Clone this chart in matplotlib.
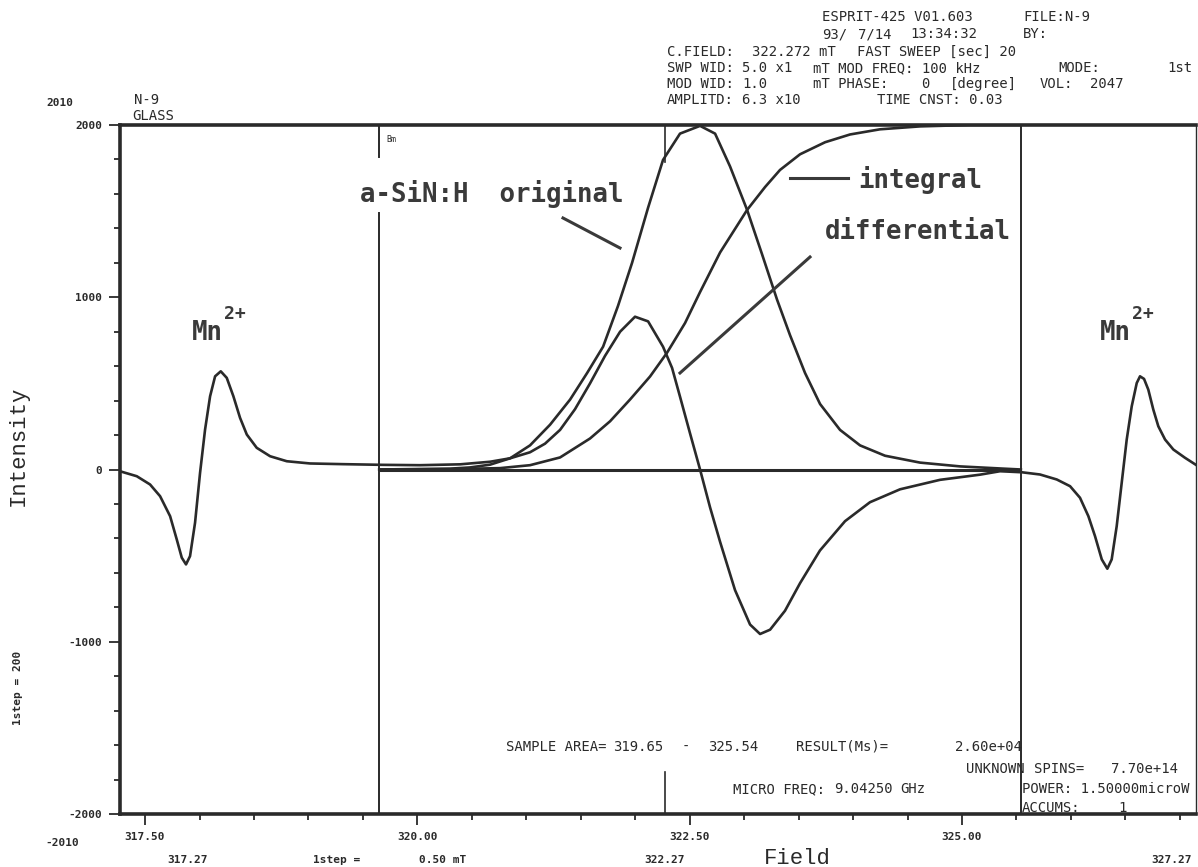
import matplotlib
matplotlib.use("Agg")
import matplotlib.pyplot as plt
from matplotlib.lines import Line2D
from matplotlib.ticker import MultipleLocator

W, H = 1198, 867

# ---------------- data ----------------
# recorded first-derivative spectrum (Mn2+ markers + sample signal)
spec_field = [317.27, 317.301, 317.424, 317.546, 317.638, 317.730, 317.791, 317.837, 317.876,
              317.913, 317.959, 318.005, 318.051, 318.097, 318.143, 318.195, 318.250, 318.311,
              318.372, 318.434, 318.525, 318.648, 318.801, 319.015, 319.318, 319.685,
              320.025, 320.392, 320.667, 320.851, 321.034, 321.172, 321.310, 321.447, 321.585,
              321.723, 321.861, 321.998, 322.118, 322.255, 322.338, 322.411, 322.503, 322.595,
              322.687, 322.779, 322.916, 323.054, 323.146, 323.238, 323.375, 323.513, 323.696,
              323.926, 324.155, 324.431, 324.798, 325.165,
              325.349, 325.548, 325.716, 325.870, 325.992, 326.083, 326.160, 326.221, 326.283,
              326.334, 326.374, 326.420, 326.466, 326.512, 326.558, 326.604, 326.634, 326.671,
              326.710, 326.756, 326.802, 326.864, 326.940, 327.047, 327.167]
spec_int = [-10, -16, -39, -87, -155, -271, -406, -512, -551,
            -503, -309, -19, 232, 425, 541, 570, 532, 425,
            300, 203, 126, 77, 48, 35, 31, 27,
            25, 30, 45, 65, 100, 150, 230, 350, 500,
            660, 800, 887, 860, 713, 590, 423, 210, 0,
            -220, -420, -700, -900, -955, -930, -820, -660, -470,
            -300, -190, -115, -60, -30,
            -10, -16, -29, -58, -97, -164, -271, -387, -522,
            -576, -522, -329, -77, 174, 367, 502, 541, 526,
            464, 348, 251, 174, 116, 68, 19]

# absorption ("original") curve
orig_field = [319.65, 320.300, 320.484, 320.667, 320.851, 321.034, 321.218, 321.402, 321.558,
              321.705, 321.842, 321.971, 322.118, 322.255, 322.411, 322.595, 322.733, 322.870,
              323.027, 323.164, 323.302, 323.421, 323.559, 323.697, 323.880, 324.064, 324.293,
              324.615, 324.982, 325.349, 325.54]
orig_int = [0, 5, 12, 28, 65, 140, 260, 406, 560,
            713, 950, 1200, 1520, 1797, 1950, 1995, 1950, 1760,
            1507, 1250, 986, 780, 560, 380, 230, 140, 80,
            40, 18, 6, 0]

# integrated curve
integ_field = [319.65, 320.300, 320.759, 321.034, 321.310, 321.585, 321.769, 321.952, 322.136,
               322.292, 322.457, 322.595, 322.779, 323.027, 323.192, 323.329, 323.513, 323.743,
               323.972, 324.247, 324.615, 325.074, 325.54]
integ_int = [0, 2, 8, 25, 70, 180, 280, 406, 540,
             678, 850, 1030, 1260, 1507, 1640, 1739, 1830, 1900,
             1945, 1975, 1992, 2000, 2000]

xtick_vals = [317.5, 320.0, 322.5, 325.0]
xtick_labels = ["317.50", "320.00", "322.50", "325.00"]
ytick_vals = [-2000, -1000, 0, 1000, 2000]
ytick_labels = ["-2000", "-1000", "0", "1000", "2000"]
sample_area = [319.65, 325.54]
center_field = 322.27

header = [
    (17, [(822, "ESPRIT-425 V01.603"), (1023, "FILE:N-9")]),
    (34, [(822, "93/"), (858, "7/14"), (910, "13:34:32"), (1023, "BY:")]),
    (52, [(667, "C.FIELD:"), (752, "322.272 mT"), (857, "FAST SWEEP [sec] 20")]),
    (68, [(667, "SWP WID:"), (742, "5.0 x1"), (813, "mT MOD FREQ: 100 kHz"),
          (1058, "MODE:"), (1167, "1st")]),
    (84, [(667, "MOD WID:"), (742, "1.0"), (813, "mT PHASE:"), (921, "0"),
          (950, "[degree]"), (1040, "VOL:"), (1090, "2047")]),
    (100, [(667, "AMPLITD:"), (742, "6.3 x10"), (877, "TIME CNST: 0.03")]),
]

footer = [
    (747, [(506, "SAMPLE AREA="), (613, "319.65"), (682, "-"), (708, "325.54"),
           (796, "RESULT(Ms)="), (955, "2.60e+04")]),
    (769, [(966, "UNKNOWN"), (1034, "SPINS="), (1111, "7.70e+14")]),
    (789, [(733, "MICRO FREQ:"), (834, "9.04250"), (900, "GHz"), (1022, "POWER: 1.50000microW")]),
    (808, [(1022, "ACCUMS:"), (1118, "1")]),
]

# ---------------- figure ----------------
INK = "#2a2a2a"
fig = plt.figure(figsize=(W / 100, H / 100), dpi=100)
fig.patch.set_facecolor("white")


def fx(x):
    return x / W


def fy(y):
    return 1 - y / H


ax = fig.add_axes([fx(120), fy(814), (1196 - 120) / W, (814 - 125) / H])
ax.set_xlim(317.27, 327.148)
ax.set_ylim(-2000, 2000)
ax.set_facecolor("none")

for side, lw in [("left", 2.6), ("top", 2.6), ("bottom", 2.6), ("right", 1.0)]:
    ax.spines[side].set_linewidth(lw)
    ax.spines[side].set_color(INK)

ax.set_xticks(xtick_vals)
ax.set_xticklabels(xtick_labels)
ax.xaxis.set_minor_locator(MultipleLocator(0.5))
ax.set_yticks(ytick_vals)
ax.set_yticklabels(ytick_labels)
ax.yaxis.set_minor_locator(MultipleLocator(200))
ax.tick_params(axis="both", which="major", direction="out", length=8, width=1.3,
               color=INK, labelsize=8, labelcolor=INK)
ax.tick_params(axis="both", which="minor", direction="out", length=4.5, width=1.3, color=INK)
ax.tick_params(axis="y", which="major", pad=5)
ax.tick_params(axis="x", which="major", pad=5)
for lab in ax.get_xticklabels() + ax.get_yticklabels():
    lab.set_fontfamily("DejaVu Sans Mono")
    lab.set_fontweight("bold")

# curves
ax.plot(spec_field, spec_int, color=INK, lw=1.9, solid_joinstyle="round")
ax.plot(orig_field, orig_int, color=INK, lw=1.9, solid_joinstyle="round")
ax.plot(integ_field, integ_int, color=INK, lw=1.9, solid_joinstyle="round")
ax.hlines(0, sample_area[0], sample_area[1], color=INK, lw=2.2)

# sample-area markers
ax.axvline(sample_area[0], ymin=0, ymax=(814 - 213) / 689, color=INK, lw=1.4)
ax.axvline(sample_area[0], ymin=(814 - 157) / 689, ymax=1, color=INK, lw=1.4)
ax.axvline(sample_area[1], color=INK, lw=1.4)
ax.axvline(center_field, ymin=(814 - 162) / 689, ymax=1, color=INK, lw=1.2)
ax.axvline(center_field, ymin=0, ymax=(814 - 772) / 689, color=INK, lw=1.2)

MONO = "DejaVu Sans Mono"


def ptext(x, y, s, size=10, weight="normal", ha="left", va="center", rot=0, family=MONO, color=INK):
    fig.text(fx(x), fy(y), s, fontsize=size, fontweight=weight, ha=ha, va=va,
             rotation=rot, family=family, color=color)


for y, pieces in header + footer:
    for x, s in pieces:
        ptext(x, y, s, size=10)

ptext(386, 139, "Bm", size=6)
ptext(134, 100, "N-9", size=10)
ptext(132, 116, "GLASS", size=10)
ptext(60, 103, "2010", size=8, weight="bold", ha="center")
ptext(62, 843, "-2010", size=8, weight="bold", ha="center")

# axis titles
ptext(18, 446, "Intensity", size=16, rot=90, ha="center", family="Liberation Mono")
ptext(18, 688, "1step = 200", size=8, weight="bold", rot=90, ha="center")
ptext(797, 858, "Field", size=16, ha="center", family="Liberation Mono")
ptext(188, 860, "317.27", size=8, weight="bold", ha="center")
ptext(337, 860, "1step =", size=8, weight="bold", ha="center")
ptext(443, 860, "0.50 mT", size=8, weight="bold", ha="center")
ptext(665, 860, "322.27", size=8, weight="bold", ha="center")
ptext(1172, 860, "327.27", size=8, weight="bold", ha="center")

# hand annotations
ANN = "#3a3a3a"
ptext(360, 194, "a-SiN:H  original", size=18.5, weight="bold", color=ANN)
ptext(858, 180, "integral", size=18.5, weight="bold", color=ANN)
ptext(825, 232, "differential", size=18.5, weight="bold", color=ANN)
ptext(192, 333, "Mn", size=18.5, weight="bold", color=ANN)
ptext(224, 314, "2+", size=13, weight="bold", color=ANN)
ptext(1100, 333, "Mn", size=18.5, weight="bold", color=ANN)
ptext(1132, 314, "2+", size=13, weight="bold", color=ANN)

for (x0, y0), (x1, y1) in [((563, 218), (620, 248)),
                           ((680, 373), (810, 257)),
                           ((790, 178), (848, 178))]:
    fig.add_artist(Line2D([fx(x0), fx(x1)], [fy(y0), fy(y1)], transform=fig.transFigure,
                          color=ANN, lw=2.2))

fig.savefig("out.png", dpi=100, facecolor="white")
